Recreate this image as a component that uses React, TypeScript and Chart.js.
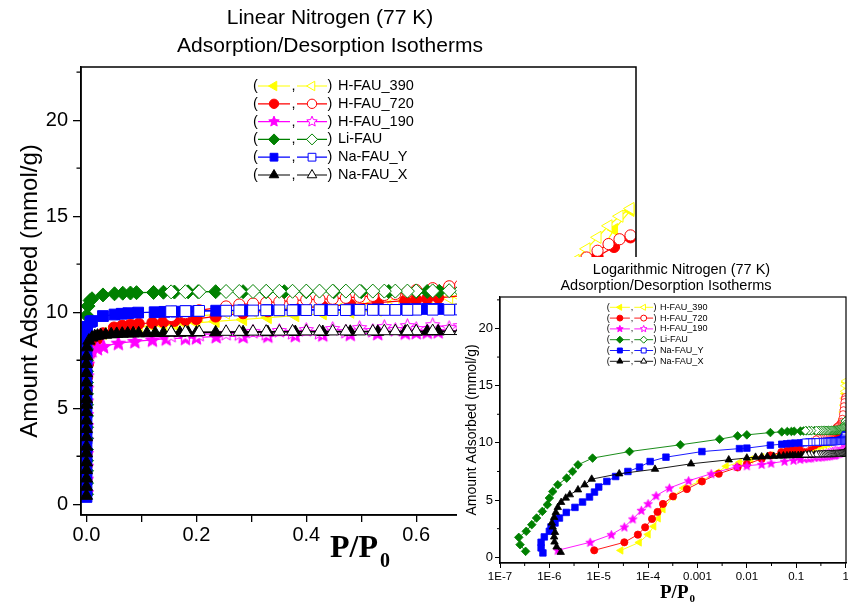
import React, { useEffect, useRef } from "react";
import { Chart, registerables } from "chart.js";
Chart.register(...registerables);

const SANS = '"Liberation Sans", Arial, Helvetica, sans-serif';
const SERIF = '"Liberation Serif", "Times New Roman", Times, serif';

const TITLE_MAIN = ["Linear Nitrogen (77 K)", "Adsorption/Desorption Isotherms"];
const TITLE_INSET = ["Logarithmic Nitrogen (77 K)", "Adsorption/Desorption Isotherms"];
const Y_TITLE = "Amount Adsorbed (mmol/g)";
const X_TITLE = "P/P";
const X_TITLE_SUB = "0";

const MATERIALS = ["H-FAU_390", "H-FAU_720", "H-FAU_190", "Li-FAU", "Na-FAU_Y", "Na-FAU_X"];
const COLORS = ["#FFFF00", "#FF0000", "#FF00FF", "#008000", "#0000FF", "#000000"];
const MARKERS = ["triLeft", "circle", "star", "diamond", "square", "triangle"];

const Y_MINOR = [2.5, 7.5, 12.5, 17.5, 22.5];
const LOG_TICKS = [1e-7, 1e-6, 1e-5, 1e-4, 1e-3, 1e-2, 1e-1, 1];
const LOG_TICK_LABELS = ["1E-7", "1E-6", "1E-5", "1E-4", "0.001", "0.01", "0.1", "1"];
const LOG_MINOR = [3.16e-7, 3.16e-6, 3.16e-5, 3.16e-4, 3.16e-3, 3.16e-2, 3.16e-1];

// shared desorption relative pressures
const desP = [0.99, 0.97, 0.95, 0.93, 0.91, 0.89, 0.86, 0.83, 0.8, 0.77, 0.74, 0.71, 0.68, 0.66, 0.63, 0.6, 0.584, 0.562, 0.542, 0.521, 0.497, 0.472, 0.448, 0.424, 0.4, 0.375, 0.351, 0.327, 0.303, 0.278, 0.254, 0.205, 0.18, 0.154];

// H-FAU_390
const h390AdsP = [2.8e-5, 6.6e-5, 1.0e-4, 1.3e-4, 1.6e-4, 2.0e-4, 3.2e-4, 5.2e-4, 1.15e-3, 2.5e-3, 3.8e-3, 7.1e-3, 0.012, 0.02, 0.03, 0.05, 0.065, 0.08, 0.095, 0.12, 0.14, 0.16, 0.18, 0.2, 0.235, 0.285, 0.33, 0.38, 0.43, 0.48, 0.53, 0.58, 0.6, 0.62, 0.64, 0.7, 0.75, 0.8, 0.85, 0.9, 0.93, 0.96, 0.99];
const h390AdsN = [0.6, 1.3, 2.0, 2.7, 3.4, 4.2, 5.3, 6.05, 6.65, 7.4, 7.95, 8.3, 8.55, 8.75, 8.9, 9.05, 9.12, 9.18, 9.22, 9.28, 9.32, 9.36, 9.4, 9.45, 9.52, 9.62, 9.72, 9.82, 9.92, 10.0, 10.1, 10.2, 10.25, 10.3, 10.35, 10.5, 10.65, 10.85, 11.1, 11.9, 12.9, 14.3, 15.3];
const h390DesN = [15.4, 15.0, 14.5, 13.9, 13.3, 12.7, 12.1, 11.7, 11.4, 11.2, 11.0, 10.9, 10.8, 10.75, 10.7, 10.65, 10.6, 10.55, 10.5, 10.45, 10.4, 10.38, 10.35, 10.3, 10.25, 10.2, 10.15, 10.1, 10.05, 10.0, 9.95, 9.8, 9.7, 9.6];

// H-FAU_720
const h720AdsP = [8.1e-6, 3.3e-5, 6.2e-5, 8.7e-5, 1.2e-4, 1.55e-4, 2.0e-4, 3.2e-4, 6.1e-4, 1.23e-3, 2.7e-3, 6.5e-3, 0.01, 0.02, 0.03, 0.05, 0.065, 0.08, 0.095, 0.12, 0.14, 0.16, 0.18, 0.2, 0.235, 0.285, 0.33, 0.38, 0.43, 0.48, 0.53, 0.58, 0.6, 0.62, 0.64, 0.7, 0.75, 0.8, 0.85, 0.9, 0.93, 0.96, 0.99];
const h720AdsN = [0.61, 1.31, 1.98, 2.62, 3.35, 3.96, 4.66, 5.32, 5.96, 6.63, 7.3, 7.85, 8.14, 8.6, 8.9, 9.2, 9.3, 9.36, 9.4, 9.45, 9.5, 9.55, 9.6, 9.65, 9.78, 9.95, 10.05, 10.2, 10.3, 10.4, 10.5, 10.6, 10.65, 10.7, 10.75, 10.9, 11.05, 11.25, 11.5, 12.0, 12.9, 13.4, 13.9];
const h720DesN = [14.0, 13.8, 13.55, 13.2, 12.85, 12.5, 12.1, 11.85, 11.7, 11.6, 11.5, 11.45, 11.4, 11.35, 11.25, 11.15, 11.05, 10.95, 10.9, 10.85, 10.8, 10.75, 10.7, 10.68, 10.65, 10.6, 10.55, 10.5, 10.45, 10.4, 10.3, 10.1, 9.95, 9.8];

// H-FAU_190
const h190AdsP = [1.48e-6, 6.7e-6, 1.8e-5, 3.3e-5, 4.9e-5, 7.3e-5, 1.0e-4, 1.45e-4, 2.7e-4, 6.6e-4, 1.9e-3, 6.3e-3, 0.01, 0.02, 0.031, 0.058, 0.088, 0.12, 0.145, 0.18, 0.2, 0.236, 0.285, 0.33, 0.38, 0.43, 0.48, 0.53, 0.58, 0.6, 0.62, 0.64, 0.7, 0.75, 0.8, 0.85, 0.9, 0.93, 0.96, 0.99];
const h190AdsN = [0.61, 1.31, 1.98, 2.65, 3.35, 4.1, 4.68, 5.38, 6.05, 6.69, 7.3, 7.93, 8.0, 8.12, 8.22, 8.39, 8.48, 8.56, 8.62, 8.65, 8.68, 8.74, 8.74, 8.77, 8.8, 8.83, 8.86, 8.9, 8.93, 8.95, 8.97, 8.99, 9.05, 9.1, 9.15, 9.2, 9.3, 9.4, 9.5, 9.7];
const h190DesN = [9.7, 9.5, 9.45, 9.4, 9.38, 9.35, 9.33, 9.3, 9.3, 9.28, 9.27, 9.25, 9.3, 9.2, 9.35, 9.15, 9.3, 9.1, 9.25, 9.05, 9.2, 9.0, 9.15, 8.95, 9.1, 8.95, 9.05, 8.9, 9.0, 8.88, 8.9, 8.85, 8.82, 8.8];

// Li-FAU
const liAdsP = [3.3e-7, 2.55e-7, 2.4e-7, 3.4e-7, 4.4e-7, 5.5e-7, 7.2e-7, 9.1e-7, 1.0e-6, 1.17e-6, 1.48e-6, 2.24e-6, 2.95e-6, 3.8e-6, 7.5e-6, 4.2e-5, 4.5e-4, 2.8e-3, 6.5e-3, 0.01, 0.03, 0.051, 0.066, 0.08, 0.091, 0.122, 0.14, 0.16, 0.185, 0.203, 0.235, 0.285, 0.327, 0.36, 0.4, 0.45, 0.5, 0.55, 0.6, 0.62, 0.642, 0.7, 0.75, 0.8, 0.85, 0.9, 0.93, 0.96, 0.99];
const liAdsN = [0.52, 1.1, 1.74, 2.27, 2.85, 3.43, 4.01, 4.6, 5.18, 5.75, 6.34, 6.92, 7.5, 8.08, 8.67, 9.24, 9.83, 10.32, 10.61, 10.7, 10.9, 10.96, 10.99, 11.0, 11.02, 11.03, 11.04, 11.05, 11.06, 11.07, 11.07, 11.07, 11.07, 11.07, 11.07, 11.07, 11.07, 11.08, 11.08, 11.08, 11.09, 11.1, 11.12, 11.15, 11.2, 11.3, 11.4, 11.6, 11.9];
const liDesN = [11.9, 11.6, 11.45, 11.35, 11.3, 11.25, 11.2, 11.18, 11.16, 11.15, 11.14, 11.13, 11.12, 11.12, 11.11, 11.11, 11.1, 11.1, 11.1, 11.1, 11.1, 11.1, 11.1, 11.1, 11.1, 11.09, 11.09, 11.09, 11.08, 11.08, 11.08, 11.07, 11.07, 11.06];

// Na-FAU_Y
const nyAdsP = [7.4e-7, 6.8e-7, 6.8e-7, 7.9e-7, 1.0e-6, 1.08e-6, 1.3e-6, 1.6e-6, 2.2e-6, 3.3e-6, 4.7e-6, 6.5e-6, 8.2e-6, 1.0e-5, 1.46e-5, 2.2e-5, 3.9e-5, 6.7e-5, 1.1e-4, 2.3e-4, 1.23e-3, 7.1e-3, 0.01, 0.03, 0.051, 0.064, 0.076, 0.094, 0.124, 0.142, 0.163, 0.182, 0.203, 0.236, 0.285, 0.33, 0.38, 0.43, 0.48, 0.53, 0.58, 0.6, 0.62, 0.64, 0.7, 0.75, 0.8, 0.85, 0.9, 0.93, 0.96, 0.99];
const nyAdsN = [0.38, 0.82, 1.31, 1.78, 2.27, 2.65, 3.0, 3.43, 3.92, 4.36, 4.83, 5.27, 5.7, 6.14, 6.63, 7.06, 7.5, 7.88, 8.37, 8.75, 9.24, 9.5, 9.54, 9.8, 9.88, 9.92, 9.95, 9.98, 10.0, 10.02, 10.03, 10.05, 10.06, 10.08, 10.1, 10.11, 10.12, 10.13, 10.14, 10.15, 10.16, 10.16, 10.17, 10.17, 10.2, 10.22, 10.25, 10.3, 10.38, 10.45, 10.55, 10.7];
const nyDesN = [10.6, 10.4, 10.3, 10.25, 10.22, 10.2, 10.18, 10.17, 10.16, 10.15, 10.15, 10.14, 10.14, 10.13, 10.13, 10.13, 10.12, 10.12, 10.12, 10.12, 10.12, 10.11, 10.11, 10.11, 10.11, 10.1, 10.1, 10.1, 10.09, 10.09, 10.08, 10.07, 10.06, 10.05];

// Na-FAU_X
const nxAdsP = [1.7e-6, 1.4e-6, 1.27e-6, 1.25e-6, 1.3e-6, 1.17e-6, 1.12e-6, 1.25e-6, 1.35e-6, 1.48e-6, 1.73e-6, 2.15e-6, 2.6e-6, 3.8e-6, 5.2e-6, 7.2e-6, 2.6e-5, 1.38e-4, 7.4e-4, 4.3e-3, 0.01, 0.015, 0.02, 0.026, 0.035, 0.045, 0.055, 0.065, 0.075, 0.085, 0.095, 0.11, 0.125, 0.14, 0.155, 0.17, 0.185, 0.2, 0.235, 0.285, 0.33, 0.38, 0.43, 0.48, 0.53, 0.58, 0.6, 0.62, 0.64, 0.7, 0.75, 0.8, 0.85, 0.9, 0.93, 0.96, 0.99];
const nxAdsN = [0.44, 0.91, 1.34, 1.78, 2.18, 2.65, 3.0, 3.49, 3.92, 4.36, 4.8, 5.18, 5.47, 5.9, 6.34, 6.83, 7.3, 7.7, 8.17, 8.52, 8.68, 8.75, 8.78, 8.8, 8.83, 8.85, 8.87, 8.88, 8.89, 8.9, 8.9, 8.91, 8.92, 8.92, 8.93, 8.93, 8.94, 8.94, 8.95, 8.96, 8.96, 8.97, 8.97, 8.98, 8.98, 8.99, 8.99, 9.0, 9.0, 9.01, 9.02, 9.03, 9.05, 9.08, 9.1, 9.15, 9.2];
const nxDesN = [9.2, 9.1, 9.08, 9.06, 9.05, 9.05, 9.04, 9.04, 9.03, 9.03, 9.03, 9.02, 9.02, 9.02, 9.02, 9.01, 9.01, 9.01, 9.01, 9.0, 9.0, 9.0, 9.0, 9.0, 9.0, 9.0, 8.99, 8.99, 8.99, 8.98, 8.98, 8.97, 8.97, 8.96];

const ADS_P = [h390AdsP, h720AdsP, h190AdsP, liAdsP, nyAdsP, nxAdsP];
const ADS_N = [h390AdsN, h720AdsN, h190AdsN, liAdsN, nyAdsN, nxAdsN];
const DES_N = [h390DesN, h720DesN, h190DesN, liDesN, nyDesN, nxDesN];

type Size = {
  r: Record<string, number>;
  lineW: number;
  markerW: number;
};
const MAIN_SIZE: Size = {
  r: { triLeft: 7, circle: 5.6, star: 7.5, diamond: 7, square: 7.6, triangle: 7 },
  lineW: 1.2,
  markerW: 1,
};
const INSET_SIZE: Size = {
  r: { triLeft: 4.3, circle: 3.6, star: 4.6, diamond: 4.3, square: 4.6, triangle: 4.3 },
  lineW: 0.9,
  markerW: 0.8,
};

function markerPath(ctx: CanvasRenderingContext2D, kind: string, x: number, y: number, r: number) {
  ctx.beginPath();
  if (kind === "circle") {
    ctx.arc(x, y, r, 0, Math.PI * 2);
  } else if (kind === "square") {
    const s = r * Math.SQRT1_2;
    ctx.rect(x - s, y - s, 2 * s, 2 * s);
  } else if (kind === "diamond") {
    ctx.moveTo(x - r, y);
    ctx.lineTo(x, y - r);
    ctx.lineTo(x + r, y);
    ctx.lineTo(x, y + r);
    ctx.closePath();
  } else if (kind === "triangle" || kind === "triLeft") {
    const rot = kind === "triLeft" ? -Math.PI / 2 : 0;
    for (let k = 0; k < 3; k++) {
      const a = rot + (k * 2 * Math.PI) / 3;
      const px = x + Math.sin(a) * r;
      const py = y - Math.cos(a) * r;
      if (k === 0) ctx.moveTo(px, py);
      else ctx.lineTo(px, py);
    }
    ctx.closePath();
  } else if (kind === "star") {
    for (let k = 0; k < 10; k++) {
      const a = -Math.PI / 2 + (k * Math.PI) / 5;
      const rr = k % 2 === 0 ? r : r * 0.45;
      const px = x + rr * Math.cos(a);
      const py = y + rr * Math.sin(a);
      if (k === 0) ctx.moveTo(px, py);
      else ctx.lineTo(px, py);
    }
    ctx.closePath();
  }
}

function drawMarker(ctx: CanvasRenderingContext2D, kind: string, x: number, y: number, r: number, fill: string, stroke: string, lw: number) {
  markerPath(ctx, kind, x, y, r);
  ctx.fillStyle = fill;
  ctx.fill();
  ctx.lineWidth = lw;
  ctx.strokeStyle = stroke;
  ctx.stroke();
}

function makeStarCanvas(r: number, fill: string, stroke: string, lw: number) {
  const size = Math.ceil(2 * r + 2 * lw + 2);
  const c = document.createElement("canvas");
  c.width = size;
  c.height = size;
  const g = c.getContext("2d")!;
  drawMarker(g, "star", size / 2, size / 2 + r * 0.08, r, fill, stroke, lw);
  return c;
}

function buildDatasets(sz: Size) {
  const out: any[] = [];
  MATERIALS.forEach((name, i) => {
    const kind = MARKERS[i];
    const r = sz.r[kind];
    const filledStyle: any = kind === "star" ? makeStarCanvas(r, COLORS[i], COLORS[i], sz.markerW) : chartStyle(kind);
    const openStyle: any = kind === "star" ? makeStarCanvas(r, "#ffffff", COLORS[i], sz.markerW) : chartStyle(kind);
    const common = {
      borderColor: COLORS[i],
      pointBorderColor: COLORS[i],
      borderWidth: sz.lineW,
      pointRadius: r,
      pointHoverRadius: r,
      pointBorderWidth: sz.markerW,
      pointRotation: kind === "triLeft" ? -90 : 0,
      tension: 0,
      showLine: true,
      fill: false,
    };
    out.push({
      ...common,
      label: name + " adsorption",
      data: ADS_P[i].map((p, k) => ({ x: p, y: ADS_N[i][k] })),
      pointStyle: filledStyle,
      pointBackgroundColor: COLORS[i],
      order: 2 * (5 - i) + 1,
    });
    out.push({
      ...common,
      label: name + " desorption",
      data: desP.map((p, k) => ({ x: p, y: DES_N[i][k] })),
      pointStyle: openStyle,
      pointBackgroundColor: "#ffffff",
      order: 2 * (5 - i),
    });
  });
  return out;
}

function chartStyle(kind: string) {
  if (kind === "triLeft" || kind === "triangle") return "triangle";
  if (kind === "diamond") return "rectRot";
  if (kind === "square") return "rect";
  return "circle";
}

type Decor = {
  frameW: number;
  tickW: number;
  minorLen: number;
  logMinor: boolean;
  titleSize: number;
  titleX: number[];
  titleY: number[];
  titleLines: string[];
  xtX: number;
  xtY: number;
  xtSize: number;
  xtSubSize: number;
  xtSubDx: number;
  xtSubDy: number;
  lgX: number;
  lgY: number;
  lgDy: number;
  lgSize: number;
  lgScale: number;
  lgR: number;
  lgLineW: number;
};

function makeDecor(d: Decor) {
  return {
    id: "decor",
    afterDraw(chart: any) {
      const { ctx, chartArea: a, scales } = chart;
      ctx.save();
      ctx.strokeStyle = "#000";
      ctx.lineWidth = d.frameW;
      ctx.strokeRect(a.left, a.top, a.right - a.left, a.bottom - a.top);
      ctx.lineWidth = d.tickW;
      ctx.beginPath();
      for (const v of Y_MINOR) {
        const py = scales.y.getPixelForValue(v);
        if (py >= a.top - 0.5 && py <= a.bottom + 0.5) {
          ctx.moveTo(a.left - d.minorLen, py);
          ctx.lineTo(a.left, py);
        }
      }
      if (d.logMinor) {
        for (const v of LOG_MINOR) {
          const px = scales.x.getPixelForValue(v);
          ctx.moveTo(px, a.bottom);
          ctx.lineTo(px, a.bottom + d.minorLen);
        }
      }
      ctx.stroke();

      // chart title
      ctx.fillStyle = "#000";
      ctx.textAlign = "center";
      ctx.textBaseline = "middle";
      ctx.font = `${d.titleSize}px ${SANS}`;
      d.titleLines.forEach((t, i) => ctx.fillText(t, d.titleX[i], d.titleY[i]));

      // x axis title with subscript
      ctx.textAlign = "left";
      ctx.textBaseline = "alphabetic";
      ctx.font = `bold ${d.xtSize}px ${SERIF}`;
      ctx.fillText(X_TITLE, d.xtX, d.xtY);
      const w = ctx.measureText(X_TITLE).width;
      ctx.font = `bold ${d.xtSubSize}px ${SERIF}`;
      ctx.fillText(X_TITLE_SUB, d.xtX + w + d.xtSubDx, d.xtY + d.xtSubDy);

      // legend
      const s = d.lgScale;
      ctx.font = `${d.lgSize}px ${SANS}`;
      ctx.textBaseline = "middle";
      MATERIALS.forEach((name, i) => {
        const y = d.lgY + i * d.lgDy;
        const x = d.lgX;
        ctx.strokeStyle = COLORS[i];
        ctx.lineWidth = d.lgLineW;
        ctx.beginPath();
        ctx.moveTo(x + 5 * s, y);
        ctx.lineTo(x + 37 * s, y);
        ctx.moveTo(x + 44 * s, y);
        ctx.lineTo(x + 74 * s, y);
        ctx.stroke();
        const kind = MARKERS[i];
        drawMarker(ctx, kind, x + 21 * s, y, d.lgR * (kind === "circle" ? 0.85 : 1), COLORS[i], COLORS[i], 1);
        drawMarker(ctx, kind, x + 59 * s, y, d.lgR * (kind === "circle" ? 0.85 : 1), "#ffffff", COLORS[i], 1);
        ctx.fillStyle = "#000";
        ctx.fillText("(", x, y);
        ctx.fillText(",", x + 38.5 * s, y);
        ctx.fillText(")", x + 74.5 * s, y);
        ctx.fillText(name, x + 85 * s, y);
      });
      ctx.restore();
    },
  };
}

function App() {
  const mainRef = useRef<HTMLCanvasElement>(null);
  const insetRef = useRef<HTMLCanvasElement>(null);

  useEffect(() => {
    const main = new Chart(mainRef.current!, {
      type: "line",
      data: { datasets: buildDatasets(MAIN_SIZE) },
      options: {
        responsive: false,
        animation: false,
        devicePixelRatio: 1,
        events: [],
        layout: { padding: { left: 0, right: 212, top: 67, bottom: 39 } },
        plugins: { legend: { display: false }, tooltip: { enabled: false }, title: { display: false } },
        scales: {
          x: {
            type: "linear",
            min: -0.01,
            max: 1.0,
            ticks: {
              stepSize: 0.1,
              includeBounds: false,
              autoSkip: false,
              maxRotation: 0,
              color: "#000",
              padding: 1,
              font: { family: SANS, size: 20 },
              callback: (v: any) => (Math.round(Number(v) * 10) % 2 === 0 ? Number(v).toFixed(1) : ""),
            },
            grid: { display: true, drawOnChartArea: false, drawTicks: true, tickLength: 7, color: "#000", lineWidth: 1.3 },
            border: { display: true, color: "#000", width: 1.5 },
            afterFit: (s: any) => {
              s.height = 50;
            },
          },
          y: {
            type: "linear",
            min: -0.56,
            max: 22.77,
            ticks: {
              stepSize: 5,
              includeBounds: false,
              color: "#000",
              padding: 5,
              font: { family: SANS, size: 20 },
              callback: (v: any) => String(v),
            },
            grid: { display: true, drawOnChartArea: false, drawTicks: true, tickLength: 8, color: "#000", lineWidth: 1.3 },
            border: { display: true, color: "#000", width: 1.5 },
            title: { display: true, text: Y_TITLE, color: "#000", font: { family: SANS, size: 24 }, padding: { top: 16, bottom: 0 } },
            afterFit: (s: any) => {
              s.width = 81;
            },
          },
        },
      } as any,
      plugins: [
        makeDecor({
          frameW: 1.5,
          tickW: 1.3,
          minorLen: 4.5,
          logMinor: false,
          titleSize: 21,
          titleX: [330, 330],
          titleY: [18, 46],
          titleLines: TITLE_MAIN,
          xtX: 330,
          xtY: 557,
          xtSize: 32,
          xtSubSize: 20,
          xtSubDx: 2,
          xtSubDy: 10,
          lgX: 253,
          lgY: 86,
          lgDy: 17.8,
          lgSize: 14.5,
          lgScale: 1,
          lgR: 5.5,
          lgLineW: 1.2,
        }) as any,
      ],
    });

    const inset = new Chart(insetRef.current!, {
      type: "line",
      data: { datasets: buildDatasets(INSET_SIZE) },
      options: {
        responsive: false,
        animation: false,
        devicePixelRatio: 1,
        events: [],
        layout: { padding: { left: 0, right: 11, top: 40, bottom: 11 } },
        plugins: { legend: { display: false }, tooltip: { enabled: false }, title: { display: false } },
        scales: {
          x: {
            type: "logarithmic",
            min: 1e-7,
            max: 1.02,
            afterBuildTicks: (s: any) => {
              s.ticks = LOG_TICKS.map((v) => ({ value: v }));
            },
            ticks: {
              autoSkip: false,
              maxRotation: 0,
              color: "#000",
              padding: 2,
              font: { family: SANS, size: 11.5 },
              callback: (v: any) => {
                const idx = LOG_TICKS.findIndex((t) => Math.abs(Math.log10(t) - Math.log10(Number(v))) < 1e-6);
                return idx >= 0 ? LOG_TICK_LABELS[idx] : "";
              },
            },
            grid: { display: true, drawOnChartArea: false, drawTicks: true, tickLength: 5, color: "#000", lineWidth: 1 },
            border: { display: true, color: "#000", width: 1.2 },
            afterFit: (s: any) => {
              s.height = 30;
            },
          },
          y: {
            type: "linear",
            min: -0.5,
            max: 22.75,
            ticks: {
              stepSize: 5,
              includeBounds: false,
              color: "#000",
              padding: 2,
              font: { family: SANS, size: 13 },
              callback: (v: any) => String(v),
            },
            grid: { display: true, drawOnChartArea: false, drawTicks: true, tickLength: 5, color: "#000", lineWidth: 1 },
            border: { display: true, color: "#000", width: 1.2 },
            title: { display: true, text: Y_TITLE, color: "#000", font: { family: SANS, size: 14 }, padding: { top: 6.6, bottom: 0 } },
            afterFit: (s: any) => {
              s.width = 43;
            },
          },
        },
      } as any,
      plugins: [
        makeDecor({
          frameW: 1.2,
          tickW: 1,
          minorLen: 3,
          logMinor: true,
          titleSize: 14.5,
          titleX: [224.5, 209],
          titleY: [13, 29],
          titleLines: TITLE_INSET,
          xtX: 203,
          xtY: 341,
          xtSize: 19,
          xtSubSize: 11,
          xtSubDx: 1,
          xtSubDy: 4,
          lgX: 149.7,
          lgY: 50.3,
          lgDy: 10.8,
          lgSize: 9.1,
          lgScale: 0.627,
          lgR: 3.5,
          lgLineW: 0.9,
        }) as any,
      ],
    });

    return () => {
      main.destroy();
      inset.destroy();
    };
  }, []);

  return (
    <div style={{ position: "fixed", left: 0, top: 0, width: 848, height: 604, overflow: "hidden", background: "#ffffff" }}>
      <canvas ref={mainRef} width={848} height={604} style={{ position: "absolute", left: 0, top: 0 }} />
      <canvas ref={insetRef} width={400} height={347} style={{ position: "absolute", left: 457, top: 257, background: "#ffffff" }} />
    </div>
  );
}

export default App;
